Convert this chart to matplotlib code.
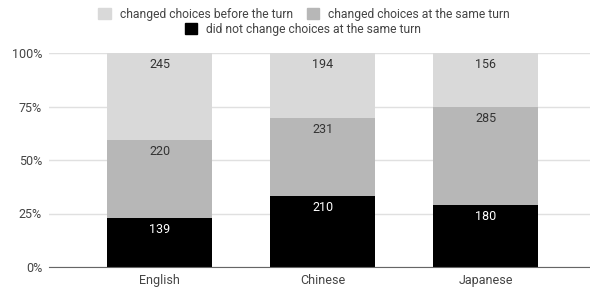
import matplotlib
matplotlib.use('Agg')
import numpy as np
import matplotlib.pyplot as plt
from matplotlib.patches import Patch

plt.rcParams['font.family'] = ['Roboto', 'DejaVu Sans']

# counts per language
languages = ['English', 'Chinese', 'Japanese']
not_changed = [139, 210, 180]
changed_same = [220, 231, 285]
changed_before = [245, 194, 156]
series_names = ['did not change choices at the same turn',
                'changed choices at the same turn',
                'changed choices before the turn']
colors = ['#000000', '#b7b7b7', '#d9d9d9']
label_colors = ['#ffffff', '#333333', '#333333']
y_ticks = [0, 25, 50, 75, 100]

counts = np.array([not_changed, changed_same, changed_before], dtype=float)
shares = counts / counts.sum(axis=0) * 100

fig = plt.figure(figsize=(5.90, 2.89), dpi=100)
ax = fig.add_axes([49 / 590, 1 - 267 / 289, 1 - 49 / 590, (267 - 53) / 289])

x = np.arange(len(languages))
bottom = np.zeros(len(languages))
for i in range(3):
    ax.bar(x, shares[i], bottom=bottom, width=0.644, color=colors[i], zorder=2)
    for j in range(len(languages)):
        top = bottom[j] + shares[i][j]
        ax.annotate(str(int(counts[i][j])), (x[j], top), xytext=(0, -3.5),
                    textcoords='offset points', ha='center', va='top',
                    fontsize=9, color=label_colors[i], zorder=3)
    bottom += shares[i]

ax.set_xlim(-0.678, 2.64)
ax.set_ylim(0, 100)
ax.set_yticks(y_ticks)
ax.set_yticklabels([f'{t}%' for t in y_ticks])
ax.set_xticks(x)
ax.set_xticklabels(languages)
ax.tick_params(length=0, labelsize=9, labelcolor='#444444', pad=5)
ax.grid(axis='y', color='#e0e0e0', lw=1, zorder=0)
for s in ['top', 'right', 'left']:
    ax.spines[s].set_visible(False)
ax.spines['bottom'].set_color('#666666')
ax.spines['bottom'].set_zorder(4)

# legend: two rows, centered
h_before = Patch(color=colors[2])
h_same = Patch(color=colors[1])
h_not = Patch(color=colors[0])
leg_kw = dict(frameon=False, fontsize=8.7, labelcolor='#444444',
              handlelength=1.0, handleheight=1.0, handletextpad=0.75,
              borderaxespad=0, borderpad=0)
fig.legend([h_before, h_same], [series_names[2], series_names[1]], ncol=2,
           loc='center', bbox_to_anchor=(304 / 590, 1 - 14.5 / 289),
           columnspacing=1.15, **leg_kw)
fig.legend([h_not], [series_names[0]], loc='center',
           bbox_to_anchor=(303 / 590, 1 - 29.5 / 289), **leg_kw)

plt.savefig('out.png', dpi=100)
